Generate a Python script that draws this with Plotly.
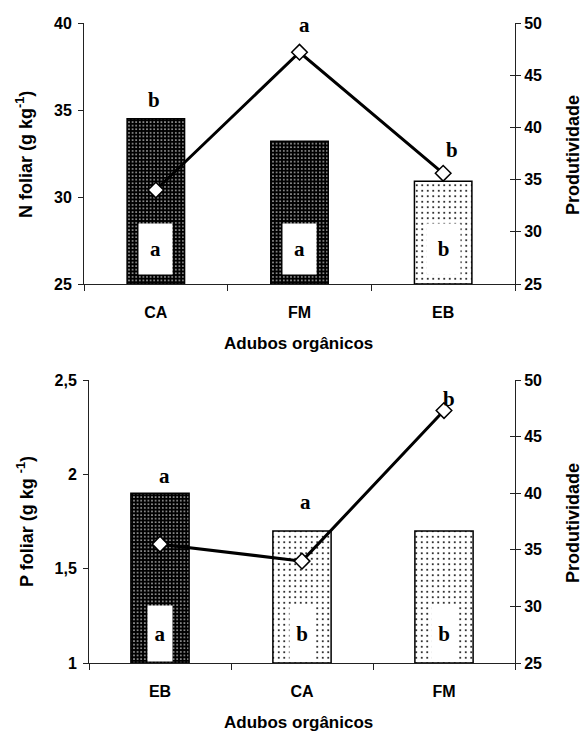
import plotly.graph_objects as go

# ---------------- data ----------------
top_categories = ["CA", "FM", "EB"]
top_n_foliar = [34.5, 33.2, 30.9]          # left axis, bars
top_produtividade = [34.0, 47.2, 35.6]     # right axis, line
top_bar_letters = ["a", "a", "b"]
top_line_letters = ["b", "a", "b"]
top_bar_dark = [True, True, False]

bot_categories = ["EB", "CA", "FM"]
bot_p_foliar = [1.90, 1.70, 1.70]
bot_produtividade = [35.5, 34.0, 47.3]
bot_bar_letters = ["a", "b", "b"]
bot_line_letters = ["a", "a", "b"]
bot_bar_dark = [True, False, False]

# ---------------- layout helpers ----------------
W, H = 584, 731
def px(x):
    return x / W
def py(y):
    return 1 - y / H

SANS = "Liberation Sans"
SERIF = "Liberation Serif"

def pattern_for(dark_flags):
    return dict(
        shape=["."] * len(dark_flags),
        bgcolor=["black" if d else "white" for d in dark_flags],
        fgcolor=["white" if d else "black" for d in dark_flags],
        size=[3.6 if d else 5.5 for d in dark_flags],
        solidity=[0.14 if d else 0.1 for d in dark_flags],
        fillmode="replace",
    )

fig = go.Figure()

# top panel
fig.add_trace(go.Bar(
    x=top_categories, y=[v - 25 for v in top_n_foliar], base=25,
    width=0.40, xaxis="x", yaxis="y",
    marker=dict(color="black", line=dict(color="black", width=1.5),
                pattern=pattern_for(top_bar_dark)),
    showlegend=False, hoverinfo="skip"))
fig.add_trace(go.Scatter(
    x=top_categories, y=top_produtividade, xaxis="x", yaxis="y2",
    mode="lines+markers",
    line=dict(color="black", width=3),
    marker=dict(symbol="diamond", size=12, color="white",
                line=dict(color="black", width=1.5)),
    showlegend=False, hoverinfo="skip"))

# bottom panel
fig.add_trace(go.Bar(
    x=bot_categories, y=[v - 1 for v in bot_p_foliar], base=1,
    width=0.41, xaxis="x2", yaxis="y3",
    marker=dict(color="black", line=dict(color="black", width=1.5),
                pattern=pattern_for(bot_bar_dark)),
    showlegend=False, hoverinfo="skip"))
fig.add_trace(go.Scatter(
    x=bot_categories, y=bot_produtividade, xaxis="x2", yaxis="y4",
    mode="lines+markers",
    line=dict(color="black", width=3),
    marker=dict(symbol="diamond", size=12, color="white",
                line=dict(color="black", width=1.5)),
    showlegend=False, hoverinfo="skip"))

tickfont = dict(family=SANS, size=16, color="black", weight="bold")

def xax(domain, anchor):
    return dict(domain=domain, anchor=anchor, type="category",
                showline=True, linecolor="#222", linewidth=1,
                ticks="outside", tickson="boundaries", ticklen=6,
                tickcolor="#222", ticklabelstandoff=14,
                tickfont=tickfont, showgrid=False, zeroline=False,
                automargin=False, fixedrange=True)

def yleft(domain, anchor, rng, dtick):
    return dict(domain=domain, anchor=anchor, range=rng, dtick=dtick,
                showline=True, linecolor="#222", linewidth=1,
                ticks="outside", ticklen=5, tickcolor="#222",
                ticklabelstandoff=3,
                tickfont=tickfont, showgrid=False, zeroline=False,
                automargin=False)

def yright(overlay, anchor, rng, dtick):
    return dict(overlaying=overlay, anchor=anchor, side="right", range=rng,
                dtick=dtick, showline=True, linecolor="#222", linewidth=1,
                ticks="outside", ticklen=5, tickcolor="#222",
                tickfont=tickfont, showgrid=False, zeroline=False,
                automargin=False)

def yright_inner(overlay, anchor, rng, dtick):
    return dict(overlaying=overlay, anchor=anchor, side="right", range=rng,
                dtick=dtick, showline=False, ticks="inside", ticklen=5,
                tickcolor="#222", showticklabels=False, showgrid=False,
                zeroline=False, automargin=False)

fig.update_layout(
    template="none",
    width=W, height=H,
    margin=dict(l=0, r=0, t=0, b=0, autoexpand=False),
    paper_bgcolor="white", plot_bgcolor="white",
    separators=", ",
    xaxis=xax([px(84), px(515)], "y"),
    yaxis=yleft([py(284), py(23)], "x", [25, 40], 5),
    yaxis2=yright("y", "x", [25, 50], 5),
    xaxis2=xax([px(89), px(515)], "y3"),
    yaxis3=yleft([py(663), py(380)], "x2", [1, 2.5], 0.5),
    yaxis4=yright("y3", "x2", [25, 50], 5),
    yaxis5=yright_inner("y", "x", [25, 50], 5),
    yaxis6=yright_inner("y3", "x2", [25, 50], 5),
)

# empty traces so the companion tick axes get drawn (no marks)
fig.add_trace(go.Scatter(x=[], y=[], xaxis="x", yaxis="y5",
                         showlegend=False, hoverinfo="skip"))
fig.add_trace(go.Scatter(x=[], y=[], xaxis="x2", yaxis="y6",
                         showlegend=False, hoverinfo="skip"))

ann = []
titlefont = dict(family=SANS, size=18, color="black", weight="bold")
# axis titles
ann.append(dict(text="N foliar (g kg<sup>-1</sup>)", x=px(24), y=py(155),
                xref="paper", yref="paper", textangle=-90, showarrow=False,
                xanchor="center", yanchor="middle", font=titlefont))
ann.append(dict(text="P foliar (g kg <sup>-1</sup>)", x=px(25), y=py(522),
                xref="paper", yref="paper", textangle=-90, showarrow=False,
                xanchor="center", yanchor="middle", font=titlefont))
for yc in (155, 523):
    ann.append(dict(text="Produtividade",
                    x=px(573), y=py(yc), xref="paper", yref="paper",
                    xanchor="center", yanchor="middle",
                    textangle=-90, showarrow=False,
                    font=dict(family=SANS, size=18, color="black", weight="bold")))
for yc in (343, 722):
    ann.append(dict(text="Adubos orgânicos", x=px(298), y=py(yc),
                    xref="paper", yref="paper", showarrow=False,
                    xanchor="center", yanchor="middle",
                    font=dict(family=SANS, size=17, color="black", weight="bold")))

letterfont = dict(family=SERIF, size=21, color="black", weight="bold")

# letters above bars/markers: (ref, yshift, xshift)
top_line_pos = [("bar", 19, -2), ("line", 27, 5), ("line", 23, 9)]
bot_line_pos = [("bar", 17, 4), ("bar", 29, 3), ("line", 12, 5)]

def add_top_letters(cats, letters, pos, bars, line, xref, ybar, yline):
    for i, (c, l, (ref, ys, xs)) in enumerate(zip(cats, letters, pos)):
        yv = bars[i] if ref == "bar" else line[i]
        yr = ybar if ref == "bar" else yline
        ann.append(dict(text=l, x=c, y=yv, xref=xref, yref=yr,
                        xanchor="center", yanchor="middle",
                        yshift=ys, xshift=xs,
                        showarrow=False, font=letterfont))

add_top_letters(top_categories, top_line_letters, top_line_pos,
                top_n_foliar, top_produtividade, "x", "y", "y2")
add_top_letters(bot_categories, bot_line_letters, bot_line_pos,
                bot_p_foliar, bot_produtividade, "x2", "y3", "y4")

# letters inside bars (white text boxes)
for c, l in zip(top_categories, top_bar_letters):
    ann.append(dict(text=l, x=c, y=25, xref="x", yref="y", yanchor="bottom",
                    xanchor="center", yshift=9, width=33, height=50,
                    bgcolor="white", borderpad=0, showarrow=False,
                    font=letterfont))
for c, l in zip(bot_categories, bot_bar_letters):
    ann.append(dict(text=l, x=c, y=1, xref="x2", yref="y3", yanchor="bottom",
                    xanchor="center", yshift=1, width=24, height=55,
                    bgcolor="white", borderpad=0, showarrow=False,
                    font=letterfont))

fig.update_layout(annotations=ann)

fig.write_html(
    "out.html",
    config={"displayModeBar": False},
    post_script="document.body.style.margin='0';document.body.style.padding='0';"
)
